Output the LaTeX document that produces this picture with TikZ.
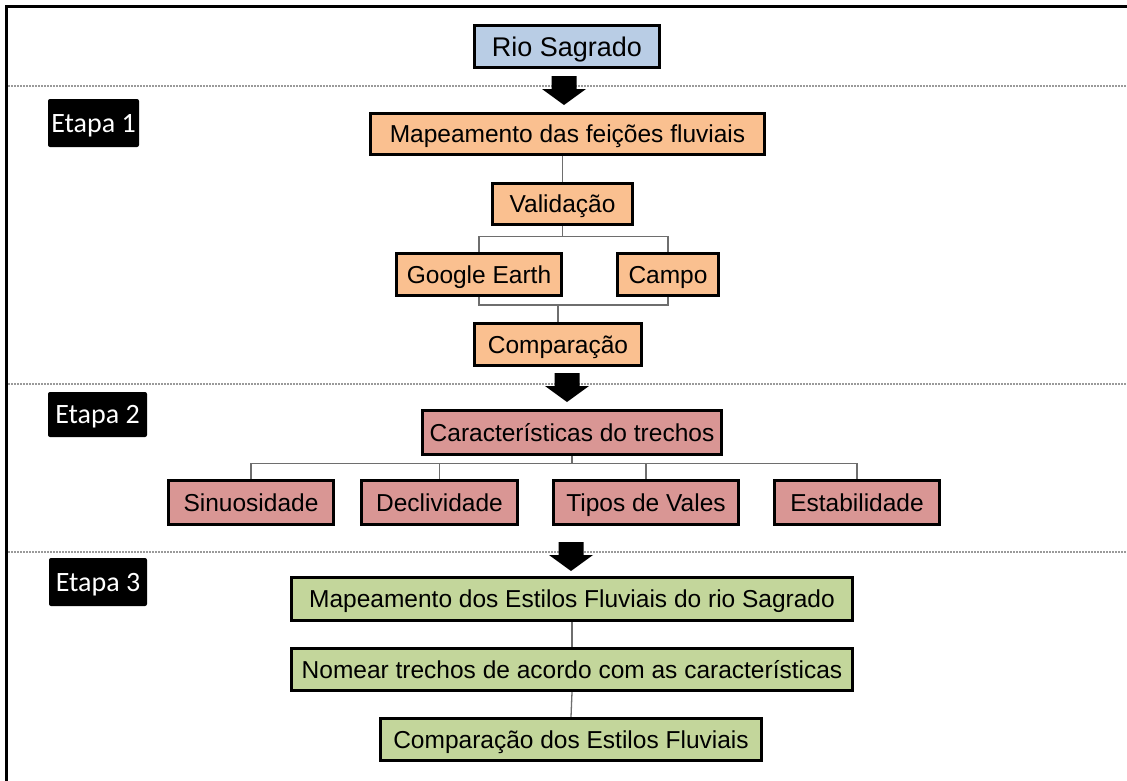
\documentclass[tikz,border=0pt]{standalone}
\usepackage{fontspec}
\setmainfont{Liberation Sans}
\newfontfamily\etapafont{Carlito}
\usetikzlibrary{calc}
\definecolor{bluefill}{HTML}{B9CDE5}
\definecolor{orangefill}{HTML}{FAC090}
\definecolor{redfill}{HTML}{D99694}
\definecolor{greenfill}{HTML}{C3D69B}
\definecolor{linkgray}{HTML}{6E6E6E}
\definecolor{sepgray}{HTML}{9A9A9A}
\begin{document}
\begin{tikzpicture}[x=1pt,y=-1pt,
  box/.style={draw=black, line width=3.3pt, inner sep=0pt, align=center,
    font=\fontsize{24.5}{28}\selectfont, text height=17.5pt, text depth=0pt},
  bluebox/.style={box, fill=bluefill, font=\fontsize{27}{30}\selectfont, text height=19.3pt},
  orangebox/.style={box, fill=orangefill},
  redbox/.style={box, fill=redfill},
  greenbox/.style={box, fill=greenfill},
  etapa/.style={fill=black, text=white, rounded corners=2pt, inner sep=0pt,
    font=\etapafont\fontsize{28}{32}\selectfont, text height=18pt, text depth=0pt},
  link/.style={draw=linkgray, line width=1.3pt},
  separator/.style={draw=sepgray, line width=1.6pt, dash pattern=on 2pt off 1pt},
  frame/.style={draw=black, line width=3pt},
  blockarrow/.pic={\fill[black] (-12.5,0) -- (12.5,0) -- (12.5,13) -- (22,13)
      -- (0,29) -- (-22,13) -- (-12.5,13) -- cycle;}
]
\useasboundingbox (0,0) rectangle (1127,780);
\fill[white] (-10,-10) rectangle (1140,790);

% frame (top and left)
\coordinate (ftl) at (6.5,6);
\coordinate (ftr) at (1135,6);
\coordinate (fbl) at (6.5,790);
\draw[frame] (ftr) -- (ftl) -- (fbl);

% stage labels
\node[etapa, minimum width=91pt, minimum height=48pt] (e1) at (93.5,123) {Etapa 1};
\node[etapa, minimum width=99pt, minimum height=45pt] (e2) at (97.5,414.5) {Etapa 2};
\node[etapa, minimum width=98pt, minimum height=48pt] (e3) at (98,582) {Etapa 3};

% top
\node[bluebox, minimum width=185pt, minimum height=42pt] (rio) at (567,46.5) {Rio Sagrado};

% stage 1
\node[orangebox, minimum width=394pt, minimum height=41pt] (map) at (567.5,134) {Mapeamento das feições fluviais};
\node[orangebox, minimum width=140pt, minimum height=41pt] (val) at (562.5,204) {Validação};
\node[orangebox, minimum width=165pt, minimum height=42pt] (ge) at (479,274.5) {Google Earth};
\node[orangebox, minimum width=101pt, minimum height=42pt] (campo) at (668,274.5) {Campo};
\node[orangebox, minimum width=167pt, minimum height=42pt] (comp) at (558,344.5) {Comparação};

% stage 2
\node[redbox, minimum width=299pt, minimum height=44pt] (car) at (572,432.5) {Características do trechos};
\node[redbox, minimum width=165pt, minimum height=44pt] (sin) at (251,502.5) {Sinuosidade};
\node[redbox, minimum width=156pt, minimum height=44pt] (dec) at (439.5,502.5) {Declividade};
\node[redbox, minimum width=185pt, minimum height=44pt] (tip) at (646,502.5) {Tipos de Vales};
\node[redbox, minimum width=165pt, minimum height=44pt] (est) at (857,502.5) {Estabilidade};

% stage 3
\node[greenbox, minimum width=561pt, minimum height=43pt] (m3) at (572,599) {Mapeamento dos Estilos Fluviais do rio Sagrado};
\node[greenbox, minimum width=561pt, minimum height=42pt] (nom) at (572,669.5) {Nomear trechos de acordo com as características};
\node[greenbox, minimum width=381pt, minimum height=42pt] (c3) at (571,739.5) {Comparação dos Estilos Fluviais};

% connectors stage 1
\draw[link] (val.north) -- (val.north |- map.south);
\coordinate (b1) at ($(val.south)+(0,10)$);
\draw[link] (val.south) -- (b1);
\draw[link] (ge.north) |- (b1) -| (campo.north);
\coordinate (b2) at ($(comp.north)+(0,-17)$);
\draw[link] (ge.south) |- (b2) -| (campo.south);
\draw[link] (comp.north) -- (b2);

% connectors stage 2
\coordinate (b3) at ($(car.south)+(0,7)$);
\draw[link] (car.south) -- (b3);
\draw[link] (sin.north) |- (b3);
\draw[link] (est.north) |- (b3);
\draw[link] (dec.north) -- (dec.north |- b3);
\draw[link] (tip.north) -- (tip.north |- b3);

% connectors stage 3
\draw[link] (m3.south) -- (nom.north);
\draw[link] (nom.south) -- (c3.north);

% keep the right edge clean
\fill[white] (1118,9) rectangle (1140,790);

% separators
\coordinate (s1a) at (8,86);  \coordinate (s1b) at (1127,86);
\coordinate (s2a) at (8,384); \coordinate (s2b) at (1127,384);
\coordinate (s3a) at (8,552); \coordinate (s3b) at (1127,552);
\draw[separator] (s1a) -- (s1b);
\draw[separator] (s2a) -- (s2b);
\draw[separator] (s3a) -- (s3b);

% block arrows
\pic at (564,76) {blockarrow};
\pic at (567,373) {blockarrow};
\pic at (571,542) {blockarrow};
\end{tikzpicture}
\end{document}
